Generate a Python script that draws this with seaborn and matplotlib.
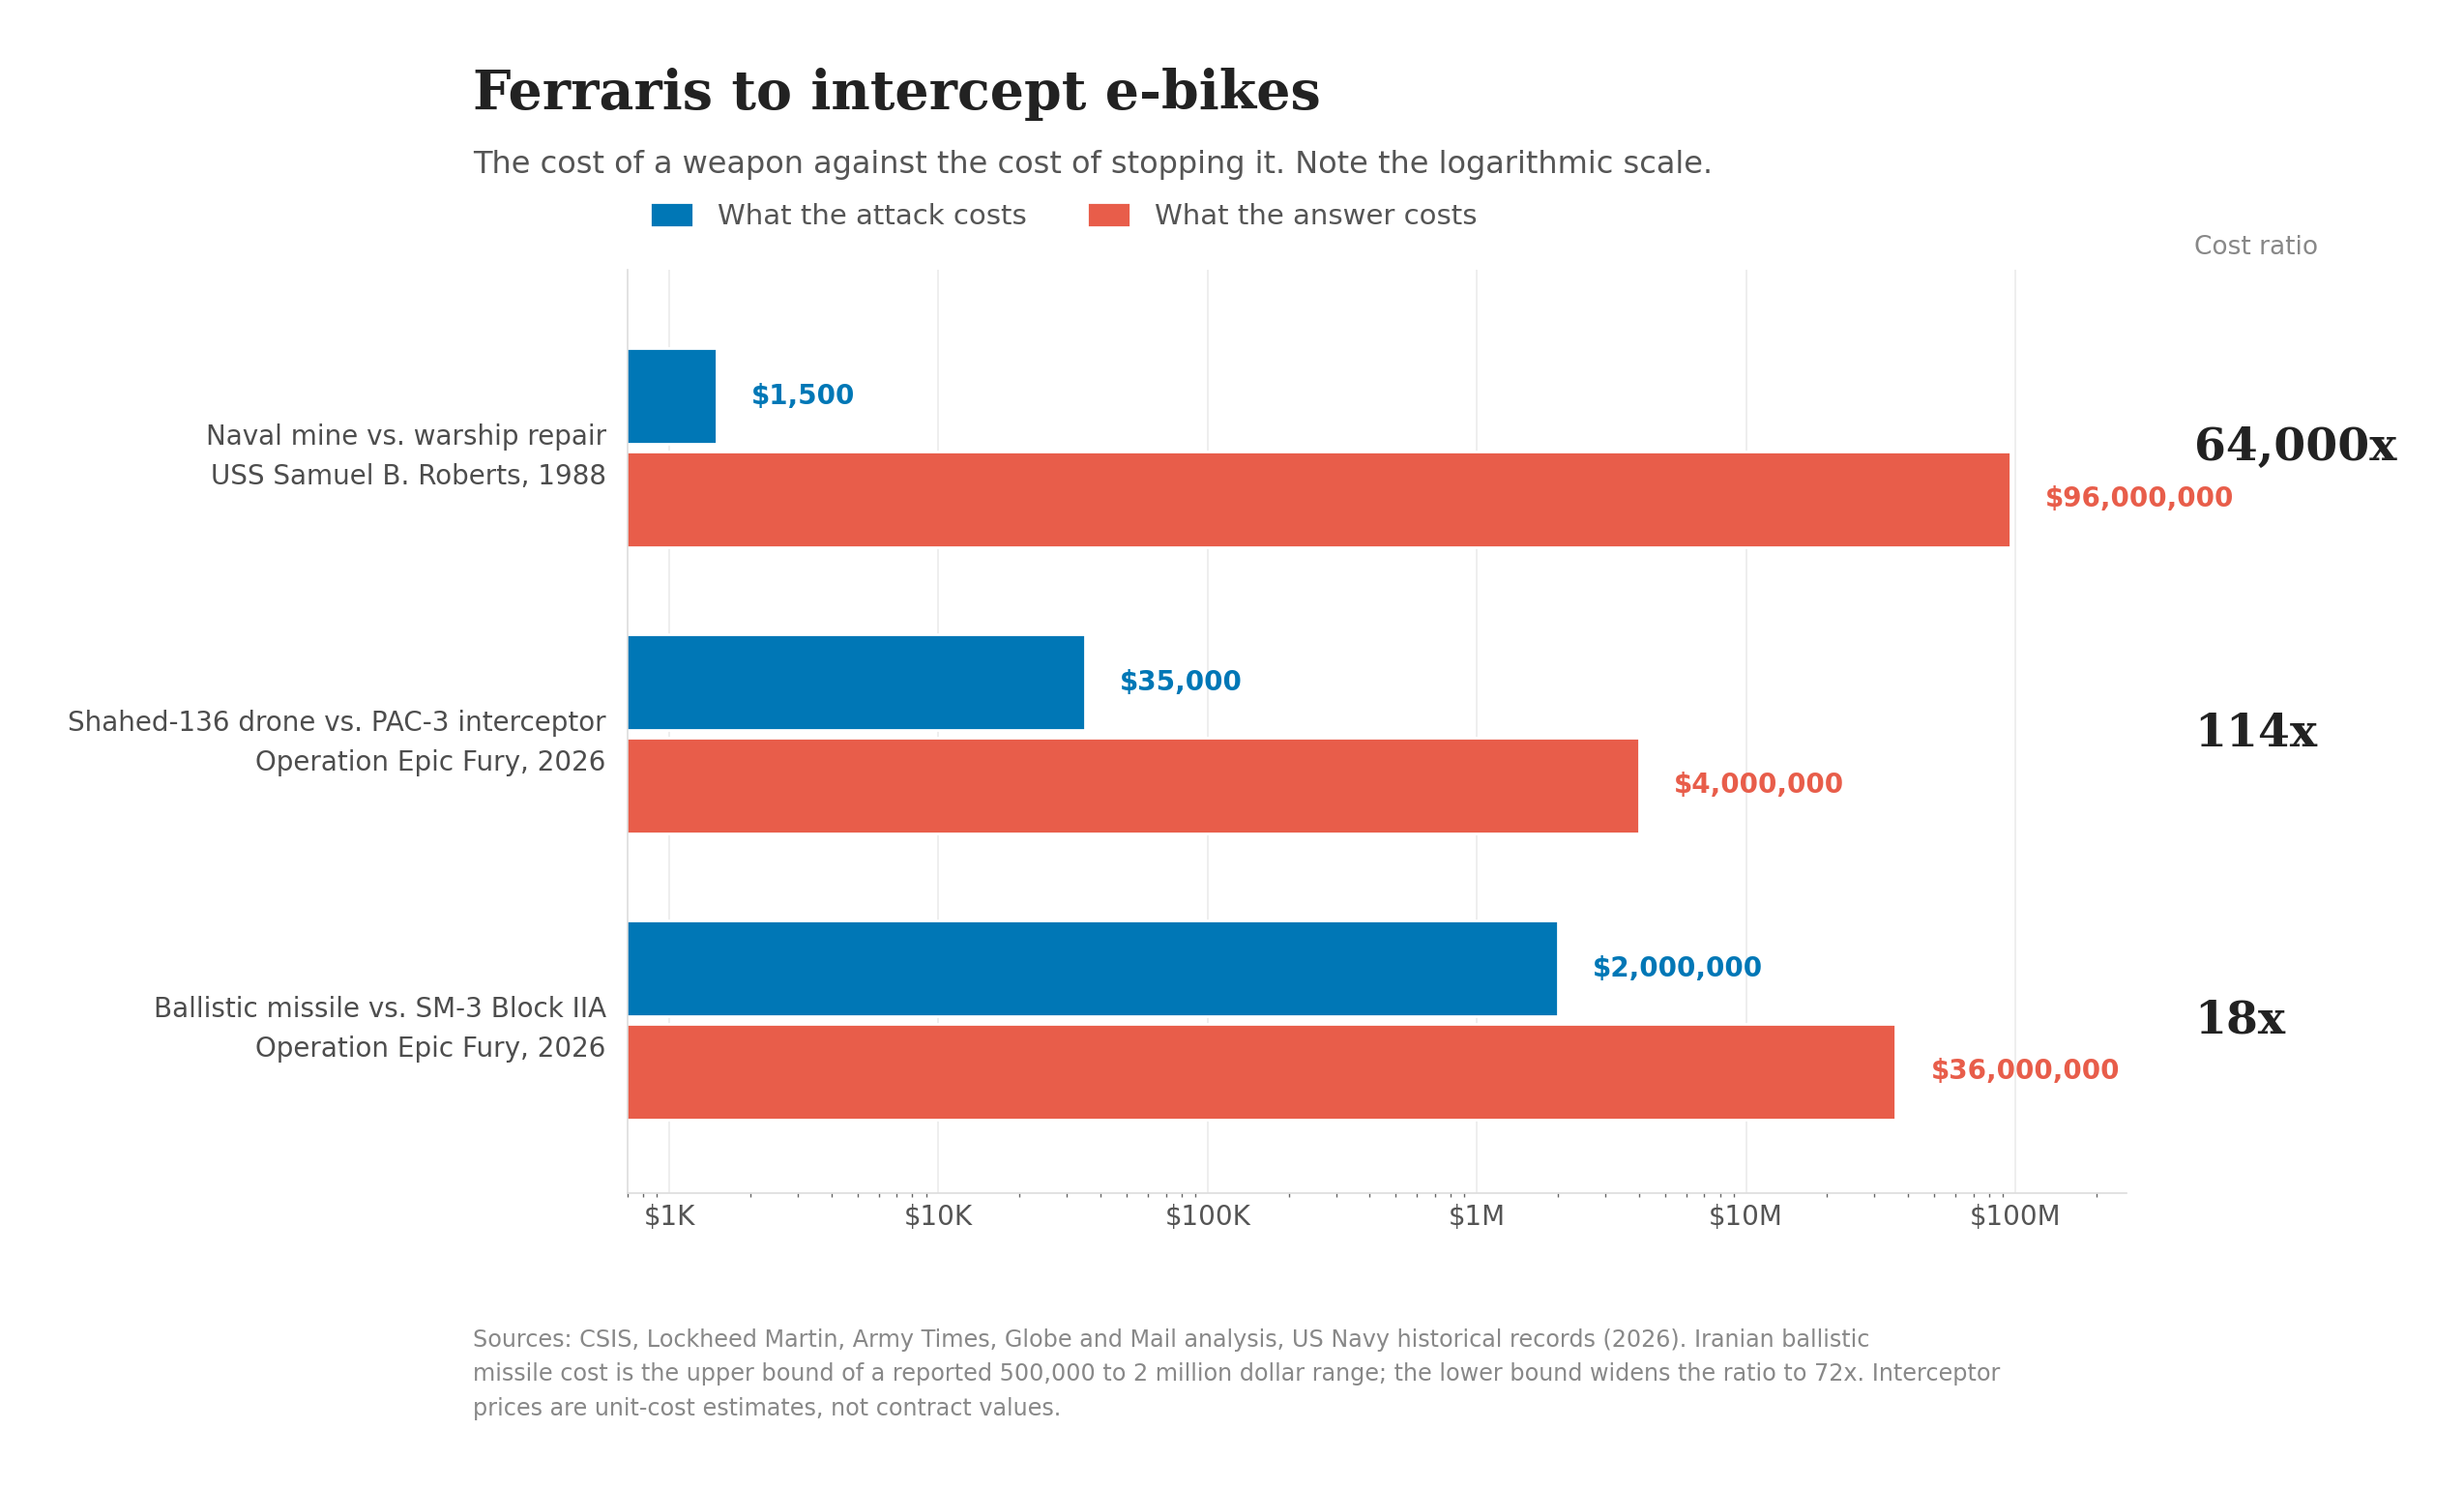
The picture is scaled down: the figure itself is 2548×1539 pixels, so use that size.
import matplotlib.pyplot as plt
import matplotlib.ticker as mticker
import pandas as pd
import seaborn as sns

# ---------------------------
# Datos
# ---------------------------
matchups = [
    "Naval mine vs. warship repair\nUSS Samuel B. Roberts, 1988",
    "Shahed-136 drone vs. PAC-3 interceptor\nOperation Epic Fury, 2026",
    "Ballistic missile vs. SM-3 Block IIA\nOperation Epic Fury, 2026",
]
attack_cost = [1500, 35000, 2000000]
answer_cost = [96000000, 4000000, 36000000]
ratio_labels = ["64,000x", "114x", "18x"]
series = ["What the attack costs", "What the answer costs"]
tick_values = [1e3, 1e4, 1e5, 1e6, 1e7, 1e8]
tick_labels = ["$1K", "$10K", "$100K", "$1M", "$10M", "$100M"]

title = "Ferraris to intercept e-bikes"
subtitle = "The cost of a weapon against the cost of stopping it. Note the logarithmic scale."
footer = ("Sources: CSIS, Lockheed Martin, Army Times, Globe and Mail analysis, US Navy historical records (2026). Iranian ballistic\n"
          "missile cost is the upper bound of a reported 500,000 to 2 million dollar range; the lower bound widens the ratio to 72x. Interceptor\n"
          "prices are unit-cost estimates, not contract values.")

BLUE = "#0077b6"
RED = "#e85d4a"

df = pd.DataFrame({
    "matchup": matchups * 2,
    "cost": attack_cost + answer_cost,
    "series": [series[0]] * 3 + [series[1]] * 3,
})

sns.set_style("white")
plt.rcParams["font.family"] = ["DejaVu Sans"]

fig = plt.figure(figsize=(12.74, 7.695), dpi=200)
ax_left, ax_width = 0.2547, 0.6085
ax = fig.add_axes([ax_left, 0.198, ax_width, 0.8185 - 0.198])

sns.barplot(data=df, x="cost", y="matchup", hue="series", orient="h",
            palette=[BLUE, RED], width=0.72, gap=0.07, saturation=1, ax=ax)
ax.set_xscale("log")

handles, labels = ax.get_legend_handles_labels()
ax.get_legend().remove()

ax.set_xlim(700, 2.6e8)
ax.set_ylim(2.605, -0.621)
ax.set_xlabel("")
ax.set_ylabel("")

ax.xaxis.set_major_locator(mticker.FixedLocator(tick_values))
ax.xaxis.set_major_formatter(mticker.FixedFormatter(tick_labels))
ax.xaxis.set_minor_locator(mticker.LogLocator(base=10, subs=range(2, 10)))
ax.xaxis.set_minor_formatter(mticker.NullFormatter())
ax.tick_params(axis="x", which="major", length=0, pad=4, labelsize=10, labelcolor="#555555")
ax.tick_params(axis="x", which="minor", length=1.6, width=0.5, color="#666666", bottom=True)
ax.tick_params(axis="y", length=0, pad=8, labelsize=10, labelcolor="#4d4d4d")
for lab in ax.get_yticklabels():
    lab.set_linespacing(1.6)

ax.grid(axis="x", which="major", color="#ebebeb", lw=0.6)
ax.grid(axis="y", visible=False)
ax.set_axisbelow(True)
for side in ["top", "right"]:
    ax.spines[side].set_visible(False)
for side in ["left", "bottom"]:
    ax.spines[side].set_color("#dddddd")
    ax.spines[side].set_linewidth(0.6)

# Etiquetas de valor al final de cada barra
for container, color in zip(ax.containers, [BLUE, RED]):
    for bar in container:
        w = bar.get_width()
        yc = bar.get_y() + bar.get_height() / 2
        ax.annotate(f"${w:,.0f}", xy=(w, yc), xytext=(13, 0), textcoords="offset points",
                    ha="left", va="center", fontsize=10, fontweight="bold", color=color)

# Columna de ratio
ratio_x = 0.8905
for i, lab in enumerate(ratio_labels):
    ax.text((ratio_x - ax_left) / ax_width, i, lab, transform=ax.get_yaxis_transform(),
            ha="left", va="center", family="DejaVu Serif", fontweight="bold", fontsize=17,
            color="#222222")

fig.text(ratio_x, 0.829, "Cost ratio", ha="left", va="baseline", fontsize=9.5, color="#888888")

fig.text(0.1918, 0.9268, title, ha="left", va="baseline", family="DejaVu Serif",
         fontweight="bold", fontsize=20, color="#222222")
fig.text(0.1918, 0.8835, subtitle, ha="left", va="baseline", fontsize=11.5, color="#555555")

fig.legend(handles, labels, loc="center left", bbox_to_anchor=(0.2637, 0.8546), ncol=2,
           frameon=False, fontsize=10.5, labelcolor="#555555", handlelength=1.55,
           handleheight=1.0, handletextpad=0.84, columnspacing=2.15, borderpad=0,
           borderaxespad=0)

fig.text(0.1918, 0.1073, footer, ha="left", va="top", fontsize=8.6, color="#888888",
         linespacing=1.6)

fig.savefig("out.png", dpi=200)
